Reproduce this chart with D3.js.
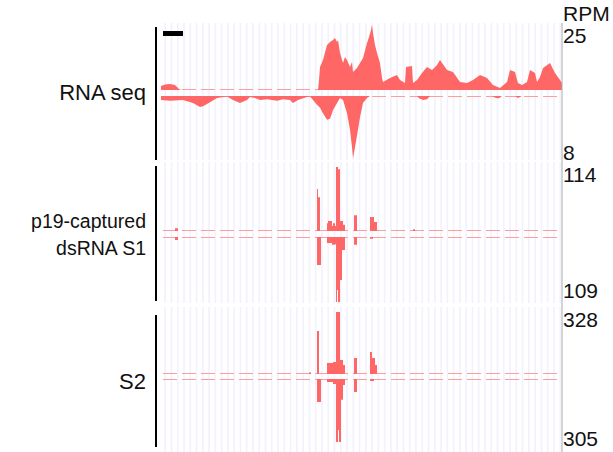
<!DOCTYPE html>
<html><head><meta charset="utf-8">
<script src="https://cdn.jsdelivr.net/npm/d3@7"></script>
<style>body{margin:0;background:#fff}svg{display:block}text{font-family:"Liberation Sans",Arial,sans-serif;fill:#111}</style>
</head><body>
<script>
// ---- data (genomic position index 0..401, values in RPM) ----
const trackLabels = [["RNA seq"], ["p19-captured", "dsRNA S1"], ["S2"]];
const unitLabel = "RPM";
const plusMax = [25, 114, 328];
const minusMax = [8, 109, 305];

const rnaPlusPos = [0,4,9,14,18,20,157,158,159,162,166,169,172,174,176,177,179,182,184,186,189,191,192,196,199,202,206,208,210,211,212,214,216,219,221,222,229,236,239,244,245,251,252,256,261,266,271,276,279,286,292,299,306,312,319,326,332,339,346,349,354,357,361,366,369,374,376,379,382,389,394,399,401];
const rnaPlusVal = [1.5,2.1,2.3,1.9,0.4,0,0,3.8,8.8,11.5,17.3,18.5,19.2,20,18.5,19.2,14.2,10.4,12.7,11.5,8.8,10.8,6.9,8.5,10.4,12.3,18.1,20.4,23.1,25,21.9,17.3,14.2,10.4,4.6,3.1,4.6,5.8,3.8,2.7,8.8,9.2,2.7,3.8,6.5,8.8,7.7,9.6,11.5,7.7,6.9,3.1,2.7,3.8,5.8,4.6,1.9,0.8,3.1,7.7,6.9,2.7,1.9,3.1,7.7,6.5,3.1,5.0,8.5,10.4,6.5,3.8,2.7];
const rnaMinusPos = [0,9,22,32,39,42,49,56,66,72,79,86,89,94,99,106,116,122,129,132,137,146,149,152,156,159,162,166,169,172,176,179,182,186,189,191,192,194,197,199,202,206,209,256,258,262,266,269,331,335,338,341,354,357,361,401];
const rnaMinusVal = [0.5,0.6,0.5,0.9,1.4,1.3,0.8,0.25,0.06,0.5,0.9,0.5,0.13,0.25,0.5,0.4,0.6,0.4,0.5,0.9,0.5,0.13,0.05,0.5,1.1,1.5,2.2,3.0,2.9,1.8,0.9,0.25,0.5,2.2,4.3,6.5,7.9,6.5,4.3,2.7,0.9,0.25,0,0,0.3,0.5,0.4,0,0,0.25,0.3,0,0,0.25,0,0];

const s1PlusPos = [0,14,17,156,157,159,166,167,171,172,174,175,177,179,182,184,193,196,209,213,216,252,254,401];
const s1PlusVal = [0,5,0,75,60,0,14,18,9,14,9,114,110,18,11,0,28,0,25,16,0,3,0,0];
const s1MinusPos = [0,14,17,156,160,166,171,174,175,176,177,179,181,184,193,196,209,212,401];
const s1MinusVal = [0,5,0,47,0,10,13,12,109,89,109,72,22,0,13,0,3,0,0];

const s2PlusPos = [0,148,150,156,158,166,172,175,179,182,184,193,196,209,211,214,216,401];
const s2PlusVal = [0,8,0,227,0,58,63,328,74,48,0,85,0,116,85,48,0,0];
const s2MinusPos = [0,156,160,166,172,175,177,178,180,182,184,193,196,209,213,401];
const s2MinusVal = [0,111,0,15,24,305,247,305,100,29,0,63,0,10,0,0];

// ---- layout ----
const W = 613, H = 452;
const svg = d3.select("body").append("svg").attr("width", W).attr("height", H);
const x = d3.scaleLinear().domain([0, 401]).range([161, 562]);
const RED = "#ff6666";

const panels = [
  {gridTop:23, gridBot:160, barTop:27, barBot:160, plusBase:90, plusTop:25, minusBase:96, minusBot:159,
   plus:[rnaPlusPos,rnaPlusVal], minus:[rnaMinusPos,rnaMinusVal], curve:d3.curveLinear,
   labelY:[100], labelSize:22, topLabY:43, botLabY:160},
  {gridTop:162, gridBot:303, barTop:166, barBot:301, plusBase:231, plusTop:167, minusBase:237, minusBot:302,
   plus:[s1PlusPos,s1PlusVal], minus:[s1MinusPos,s1MinusVal], curve:d3.curveStepAfter,
   labelY:[228,255], labelSize:19.5, topLabY:182, botLabY:298},
  {gridTop:307, gridBot:452, barTop:315, barBot:447, plusBase:374, plusTop:312, minusBase:379, minusBot:442,
   plus:[s2PlusPos,s2PlusVal], minus:[s2MinusPos,s2MinusVal], curve:d3.curveStepAfter,
   labelY:[389], labelSize:22, topLabY:327, botLabY:446}
];

// vertical grid lines
const gridX = d3.range(64).map(k => 165.2 + k * 6.27);

panels.forEach((p, i) => {
  const g = svg.append("g");
  g.selectAll("line.grid").data(gridX).join("line")
    .attr("x1", d => d).attr("x2", d => d)
    .attr("y1", p.gridTop).attr("y2", p.gridBot)
    .attr("stroke", "#f1f1ff").attr("stroke-width", 1.6);

  const yP = d3.scaleLinear().domain([0, plusMax[i]]).range([p.plusBase, p.plusTop]);
  const yM = d3.scaleLinear().domain([0, minusMax[i]]).range([p.minusBase, p.minusBot]);

  // faint dashed baselines
  [p.plusBase - 0.5, p.minusBase + 0.5].forEach(yy => {
    g.append("line").attr("x1", 163).attr("x2", 562).attr("y1", yy).attr("y2", yy)
      .attr("stroke", "#ff9c9c").attr("stroke-width", 1).attr("stroke-dasharray", "14,5");
  });

  const plusData = p.plus[0].map((d, j) => [d, p.plus[1][j]]);
  const minusData = p.minus[0].map((d, j) => [d, p.minus[1][j]]);
  g.append("path").datum(plusData)
    .attr("fill", RED)
    .attr("d", d3.area().curve(p.curve).x(d => x(d[0])).y0(yP(0)).y1(d => yP(d[1])));
  g.append("path").datum(minusData)
    .attr("fill", RED)
    .attr("d", d3.area().curve(p.curve).x(d => x(d[0])).y0(yM(0)).y1(d => yM(d[1])));

  // left black bar
  g.append("line").attr("x1", 156).attr("x2", 156).attr("y1", p.barTop).attr("y2", p.barBot)
    .attr("stroke", "#000").attr("stroke-width", 2);

  // track label
  trackLabels[i].forEach((t, j) => {
    g.append("text").attr("x", 146).attr("y", p.labelY[j]).attr("text-anchor", "end")
      .attr("font-size", p.labelSize).text(t);
  });

  // right scale labels
  g.append("text").attr("x", 563).attr("y", p.topLabY).attr("font-size", 21).text(plusMax[i]);
  g.append("text").attr("x", 563).attr("y", p.botLabY).attr("font-size", 21).text(minusMax[i]);
});

// right border
svg.append("line").attr("x1", 562).attr("x2", 562).attr("y1", 23).attr("y2", 452)
  .attr("stroke", "#aaa").attr("stroke-width", 1);

// scale bar
svg.append("rect").attr("x", 163).attr("y", 31).attr("width", 20).attr("height", 5).attr("fill", "#000");

// unit
svg.append("text").attr("x", 563).attr("y", 21).attr("font-size", 21).text(unitLabel);
</script>
</body></html>
